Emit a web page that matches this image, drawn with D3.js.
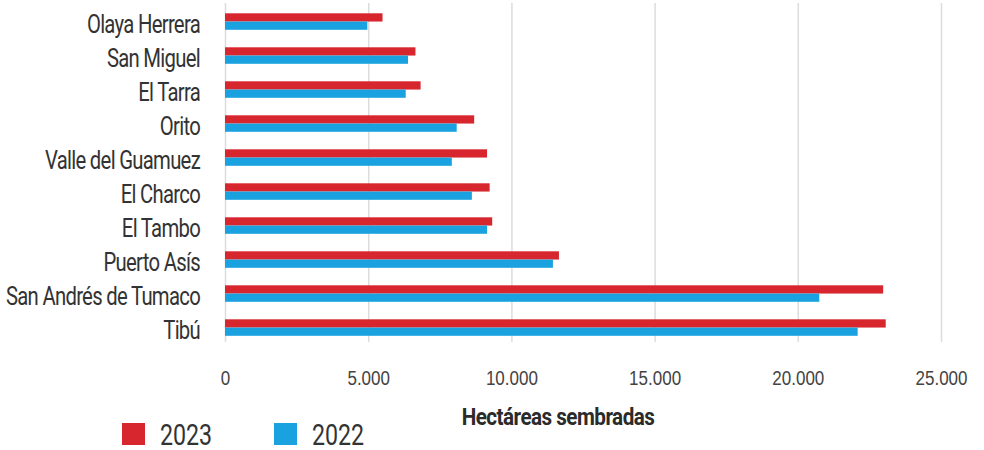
<!DOCTYPE html>
<html>
<head>
<meta charset="utf-8">
<script src="https://cdn.jsdelivr.net/npm/d3@7"></script>
<style>
  body { margin: 0; background: #fff; }
  svg { display: block; font-family: Roboto, "Liberation Sans", sans-serif; }
  .cat { font-size: 26px; fill: #333; letter-spacing: -0.9px; }
  .tick text { font-size: 21px; fill: #444; }
  .grid line { stroke: #dcdcdc; stroke-width: 1.5; }
  .axisText { font-size: 24px; font-weight: bold; fill: #2b2b2b; letter-spacing: -0.6px; }
  .legendText { font-size: 29px; fill: #333; }
</style>
</head>
<body>
<div class="chart"></div>
<script>
// municipios (top to bottom)
var categories = ["Olaya Herrera", "San Miguel", "El Tarra", "Orito", "Valle del Guamuez",
  "El Charco", "El Tambo", "Puerto Asís", "San Andrés de Tumaco", "Tibú"];
var series = ["2023", "2022"];
var values2023 = [5500, 6650, 6830, 8700, 9150, 9240, 9330, 11660, 22980, 23070];
var values2022 = [4970, 6390, 6310, 8090, 7920, 8620, 9150, 11450, 20750, 22090];
var xTicks = [0, 5000, 10000, 15000, 20000, 25000];
var xTickLabels = ["0", "5.000", "10.000", "15.000", "20.000", "25.000"];
var colors = { "2023": "#d7262e", "2022": "#1aa2e0" };

var svgWidth = 984, svgHeight = 450;
// the original uses a condensed face; squeeze the text horizontally
var squeeze = 0.81;
var catSqueeze = 0.78;

var svg = d3.select(".chart")
  .append("svg")
  .attr("width", svgWidth)
  .attr("height", svgHeight);

// scales
var xScale = d3.scaleLinear()
  .domain([0, 25000])
  .range([225, 941]);

var yScale = d3.scaleBand()
  .domain(categories)
  .range([4.8, 344.3])
  .paddingInner(0.515)
  .paddingOuter(0.25);

var ySub = d3.scaleBand()
  .domain(series)
  .range([0, yScale.bandwidth()]);

// gridlines + tick labels
var xAxis = d3.axisBottom(xScale)
  .tickValues(xTicks)
  .tickFormat(function (d, i) { return xTickLabels[i]; })
  .tickSize(-339);

var gAxis = svg.append("g")
  .attr("class", "grid")
  .attr("transform", "translate(0, 342)")
  .call(xAxis);
gAxis.select(".domain").remove();
gAxis.selectAll(".tick text")
  .attr("y", 0)
  .attr("dy", "0")
  .attr("transform", "translate(0,43) scale(" + squeeze + ",1)");

// bars
var rows = categories.map(function (c, i) {
  return { cat: c, "2023": values2023[i], "2022": values2022[i] };
});

var groups = svg.selectAll(".row")
  .data(rows)
  .enter()
  .append("g")
  .attr("class", "row")
  .attr("transform", function (d) { return "translate(0," + yScale(d.cat) + ")"; });

groups.selectAll("rect")
  .data(function (d) { return series.map(function (s) { return { key: s, value: d[s] }; }); })
  .enter()
  .append("rect")
  .attr("x", xScale(0))
  .attr("y", function (d) { return ySub(d.key); })
  .attr("width", function (d) { return xScale(d.value) - xScale(0); })
  .attr("height", ySub.bandwidth())
  .attr("fill", function (d) { return colors[d.key]; });

// category labels
svg.selectAll(".cat")
  .data(categories)
  .enter()
  .append("text")
  .attr("class", "cat")
  .attr("text-anchor", "end")
  .attr("transform", function (d) {
    return "translate(200," + (yScale(d) + yScale.bandwidth() / 2 + 11.5) + ") scale(" + catSqueeze + ",1)";
  })
  .text(function (d) { return d; });

// axis title
svg.append("text")
  .attr("class", "axisText")
  .attr("text-anchor", "middle")
  .attr("transform", "translate(558,425) scale(0.86,1)")
  .text("Hectáreas sembradas");

// legend
var legend = svg.selectAll(".legend")
  .data(series)
  .enter()
  .append("g")
  .attr("class", "legend")
  .attr("transform", function (d, i) { return "translate(" + (122 + i * 152) + ",423)"; });

legend.append("rect")
  .attr("width", 23)
  .attr("height", 22)
  .attr("fill", function (d) { return colors[d]; });

legend.append("text")
  .attr("class", "legendText")
  .attr("transform", "translate(38,21.5) scale(0.8,1)")
  .text(function (d) { return d; });
</script>
</body>
</html>
